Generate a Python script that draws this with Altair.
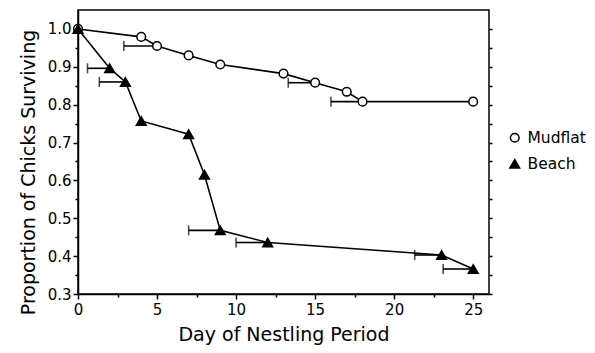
import altair as alt
import pandas as pd

# ---- data ----
series = ["Mudflat", "Beach"]
mud_day = [0, 4, 5, 7, 9, 13, 15, 17, 18, 25]
mud_surv = [1.0, 0.979, 0.955, 0.930, 0.906, 0.882, 0.858, 0.834, 0.808, 0.808]
beach_day = [0, 2, 3, 4, 7, 8, 9, 12, 23, 25]
beach_surv = [1.0, 0.896, 0.860, 0.757, 0.722, 0.615, 0.468, 0.436, 0.403, 0.366]

# one-sided (left) error bars: day of point, lower end
mud_err_day = [5, 15, 18]
mud_err_lo = [2.9, 13.3, 16.0]
beach_err_day = [2, 3, 9, 12, 23, 25]
beach_err_lo = [0.6, 1.35, 7.0, 10.0, 21.3, 23.1]

x_ticks = [0, 2.5, 5, 7.5, 10, 12.5, 15, 17.5, 20, 22.5, 25]
y_ticks = [round(0.3 + 0.05 * i, 2) for i in range(15)]

# ---- tables ----
pts = pd.DataFrame(
    {"day": mud_day + beach_day,
     "surv": mud_surv + beach_surv,
     "series": ["Mudflat"] * len(mud_day) + ["Beach"] * len(beach_day)}
)
mud_lookup = dict(zip(mud_day, mud_surv))
beach_lookup = dict(zip(beach_day, beach_surv))
err = pd.DataFrame(
    {"day": mud_err_day + beach_err_day,
     "lo": mud_err_lo + beach_err_lo,
     "surv": [mud_lookup[d] for d in mud_err_day] + [beach_lookup[d] for d in beach_err_day]}
)
right_df = pd.DataFrame({"v": y_ticks})

FONT = "DejaVu Sans"
xscale = alt.Scale(domain=[0, 26], nice=False, zero=False)
yscale = alt.Scale(domain=[0.3, 1.05], nice=False, zero=False)

x_axis = alt.Axis(
    values=x_ticks,
    labelExpr="datum.value % 5 == 0 ? datum.label : ''",
    tickSize={"condition": {"test": "datum.value % 5 != 0", "value": 3}, "value": 5},
    labelOverlap=False, labelFlush=False, labelPadding=3, titlePadding=8,
    title="Day of Nestling Period", grid=False,
)
y_axis = alt.Axis(
    values=y_ticks,
    labelExpr="round(datum.value*100) % 10 == 0 ? format(datum.value, '.1f') : ''",
    tickSize={"condition": {"test": "round(datum.value*100) % 10 != 0", "value": 3}, "value": 5},
    labelOverlap=False, labelFlush=False, labelPadding=2, titlePadding=9,
    titleY=162,
    title="Proportion of Chicks Surviving", grid=False,
)

X = alt.X("day:Q", scale=xscale, axis=x_axis)
Y = alt.Y("surv:Q", scale=yscale, axis=y_axis)

legend = alt.Legend(title=None, orient="none", legendX=429, legendY=120,
                    labelFont=FONT, labelFontSize=15.5, labelColor="black",
                    symbolStrokeColor="black", symbolStrokeWidth=1.5,
                    labelOffset=5, rowPadding=9)

lines = alt.Chart(pts).mark_line(color="black", strokeWidth=1.6).encode(
    x=X, y=Y, detail="series:N", order="day:Q"
)
bars = alt.Chart(err).mark_rule(color="black", strokeWidth=1.6).encode(
    x=alt.X("lo:Q", scale=xscale), x2="day:Q", y=Y
)
caps = alt.Chart(err).mark_tick(color="black", orient="vertical", size=10, thickness=1.6).encode(
    x=alt.X("lo:Q", scale=xscale), y=Y
)
points = alt.Chart(pts).mark_point(filled=True, strokeWidth=1.5, opacity=1).encode(
    x=X, y=Y,
    shape=alt.Shape("series:N", scale=alt.Scale(domain=series, range=["circle", "triangle-up"]),
                    legend=legend),
    fill=alt.Fill("series:N", scale=alt.Scale(domain=series, range=["white", "black"]),
                  legend=legend),
    stroke=alt.Stroke("series:N", scale=alt.Scale(domain=series, range=["black", "black"]),
                      legend=legend),
    size=alt.Size("series:N", scale=alt.Scale(domain=series, range=[75, 95]), legend=legend),
    order=alt.Order("series:N", sort="descending"),
)

main = alt.layer(lines, bars, caps, points)

right = alt.Chart(right_df).mark_point(opacity=0).encode(
    y=alt.Y("v:Q", scale=yscale,
            axis=alt.Axis(orient="right", values=y_ticks, labels=False, tickSize=3,
                          domain=False, title=None, grid=False))
)

chart = alt.layer(main, right).resolve_scale(y="independent").properties(
    width=411, height=284,
    background="white",
    autosize=alt.AutoSizeParams(type="none"),
    padding={"left": 70, "top": 2, "right": 98, "bottom": 51},
).configure_view(stroke="black", strokeWidth=1.5).configure_axis(
    domainColor="black", domainWidth=1.5, tickColor="black", tickWidth=1.5,
    labelFont=FONT, labelFontSize=15, labelColor="black",
    titleFont=FONT, titleFontSize=19, titleFontWeight="normal", titleColor="black",
)

chart.save("out.html", embed_options={"renderer": "svg", "actions": False})
